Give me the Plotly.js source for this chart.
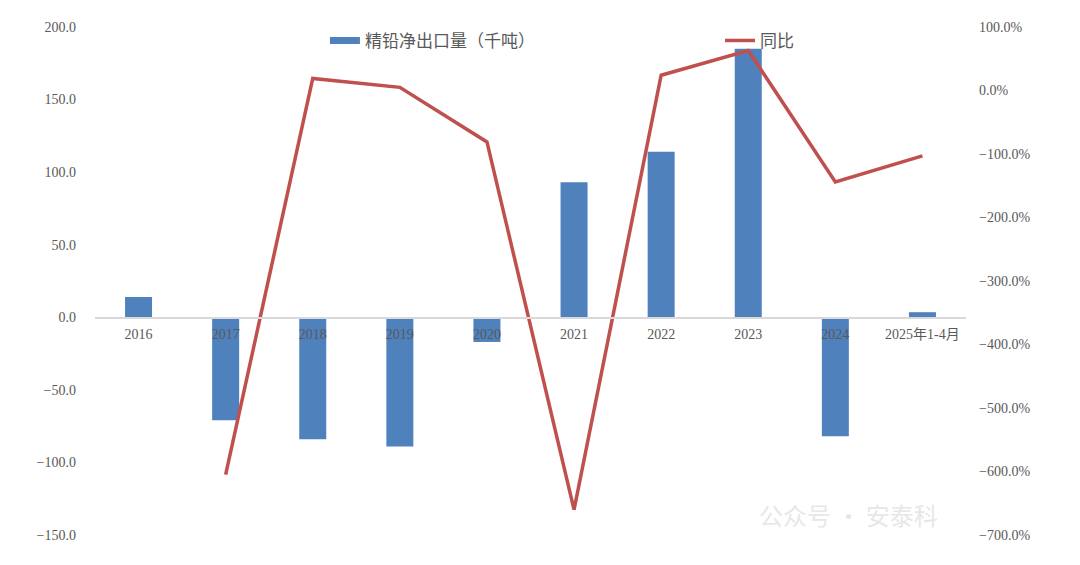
<!DOCTYPE html>
<html>
<head>
<meta charset="utf-8">
<script src="https://cdn.plot.ly/plotly-3.0.1.min.js"></script>
<style>html,body{margin:0;padding:0;background:#fff;}#chart{width:1080px;height:565px;}</style>
</head>
<body>
<div id="chart"></div>
<script>
const categories = ["2016","2017","2018","2019","2020","2021","2022","2023","2024","2025年1-4月"];
const netExport = [14, -71, -84, -89, -17, 93, 114, 185, -82, 3.5];
const yoyPct = [null, -605, 19, 5, -81, -660, 24, 63, -144, -103];
const barName = "精铅净出口量（千吨）";
const lineName = "同比";

const yRange = [-150, 200];
const y2Range = [-700, 100];
const tickFont = {family: "Liberation Serif, DejaVu Serif, serif", size: 14, color: "#595959"};
const legendFont = {family: "Noto Sans CJK SC, sans-serif", size: 17, color: "#595959"};

const traces = [
  {type: "bar", name: barName, x: categories, y: netExport, width: 0.31,
   marker: {color: "#4F81BD"}, yaxis: "y", showlegend: false},
  // legend key for the bar series (drawn in Excel style as a thick short bar)
  {type: "scatter", mode: "lines", name: barName, x: [null], y: [null],
   line: {color: "#4F81BD", width: 7}, yaxis: "y", showlegend: true, legend: "legend"},
  {type: "scatter", mode: "lines", name: lineName, x: categories, y: yoyPct,
   line: {color: "#C0504D", width: 3.5}, yaxis: "y2", connectgaps: false, legend: "legend2"}
];

const layout = {
  width: 1080, height: 565,
  margin: {l: 95, r: 114, t: 27, b: 30},
  paper_bgcolor: "#fff", plot_bgcolor: "#fff",
  showlegend: true,
  legend: {orientation: "h", x: 0.264, xanchor: "left", y: 1.008, yanchor: "top",
           font: legendFont, bgcolor: "rgba(0,0,0,0)"},
  legend2: {orientation: "h", x: 0.7176, xanchor: "left", y: 1.008, yanchor: "top",
           font: legendFont, bgcolor: "rgba(0,0,0,0)"},
  xaxis: {type: "category", anchor: "free", position: (0 - yRange[0]) / (yRange[1] - yRange[0]),
          showline: true, linecolor: "#D9D9D9", linewidth: 1.5, showgrid: false, zeroline: false,
          ticks: "", ticklabelstandoff: 3,
          tickfont: {family: "Liberation Serif, Noto Sans CJK SC, serif", size: 14, color: "#595959"},
          layer: "above traces"},
  yaxis: {range: yRange, dtick: 50, tickformat: ".1f", showgrid: false, zeroline: false,
          showline: false, ticks: "", tickfont: tickFont, ticklabelstandoff: 18},
  yaxis2: {range: y2Range, dtick: 100, tickformat: ".1f", ticksuffix: "%", overlaying: "y", side: "right",
           showgrid: false, zeroline: false, showline: false, ticks: "", tickfont: tickFont,
           ticklabelstandoff: 12},
  annotations: [
    {text: "公众号 · 安泰科", xref: "paper", yref: "paper", x: 0.97, y: 0.04, xanchor: "right", yanchor: "middle",
     showarrow: false, font: {family: "Noto Sans CJK SC, sans-serif", size: 24, color: "rgba(228,228,228,0.9)"}}
  ]
};

Plotly.newPlot("chart", traces, layout, {staticPlot: true, displayModeBar: false});
</script>
</body>
</html>
